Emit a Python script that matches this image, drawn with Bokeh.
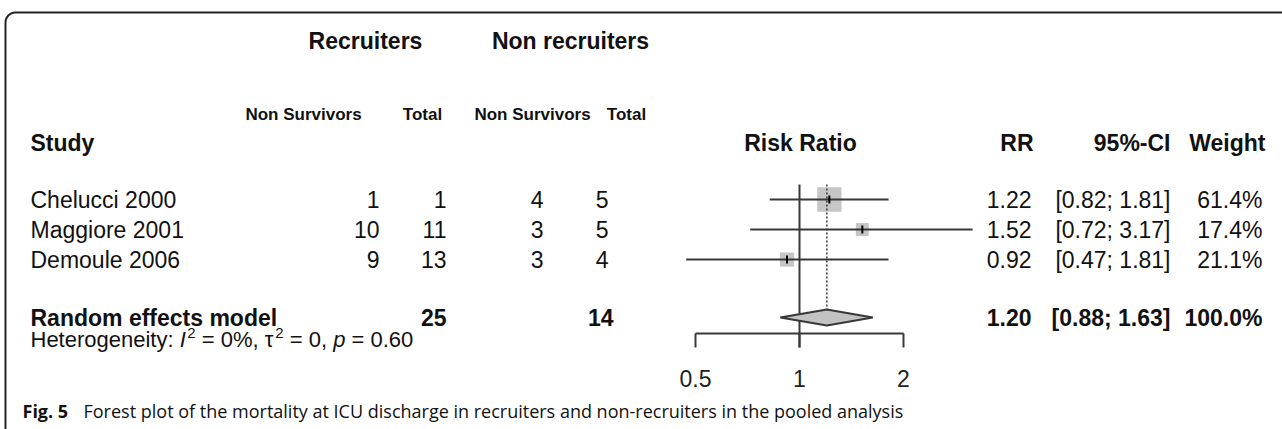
import numpy as np
from bokeh.plotting import figure
from bokeh.models import Range1d, LogScale
from bokeh.core.properties import value
from bokeh.embed import file_html
from bokeh.resources import INLINE

# ---- data -------------------------------------------------------------
studies = ["Chelucci 2000", "Maggiore 2001", "Demoule 2006"]
rec_events = [1, 10, 9]
rec_total = [1, 11, 13]
non_events = [4, 3, 3]
non_total = [5, 5, 4]
rr = [1.22, 1.52, 0.92]
ci_low = [0.82, 0.72, 0.47]
ci_high = [1.81, 3.17, 1.81]
weight = [61.4, 17.4, 21.1]

pooled_label = "Random effects model"
pooled_rec_total = 25
pooled_non_total = 14
pooled_rr = 1.20
pooled_low = 0.88
pooled_high = 1.63
pooled_weight = 100.0
het_i2 = "0%"
het_tau2 = "0"
het_p = "0.60"

null_value = 1.0
axis_ticks = [0.5, 1, 2]

caption_bold = "Fig. 5"
caption_text = ("Forest plot of the mortality at ICU discharge in recruiters "
                "and non-recruiters in the pooled analysis")

# ---- layout -----------------------------------------------------------
W, H = 1282, 429
NULL_PX = 799.0          # horizontal position of RR = 1
PX_PER_DOUBLING = 104.0  # log scale: pixels per factor of 2

Y_GROUP = 40
Y_SUB = 114
Y_HEAD = 142
ROW_Y0, ROW_STEP = 199, 30
Y_POOLED = 317
Y_HET = 339
Y_AXIS = 333
TICK_LEN = 14
Y_TICKLAB = 378
Y_CAPTION = 410
Y_FOREST_TOP = 184

row_y = [ROW_Y0 + i * ROW_STEP for i in range(len(studies))]

FONT = "Liberation Sans"
CAPFONT = "Open Sans"
FS = "23px"
INK = "#111111"
LINE = "#383838"
BOX = "#c6c6c6"

p = figure(width=W, height=H, x_range=Range1d(0, W), y_range=Range1d(H, 0),
           output_backend="svg", toolbar_location=None, min_border=0,
           x_axis_location=None, y_axis_location=None)
p.grid.visible = False
p.outline_line_color = None
p.background_fill_color = "white"

p.extra_x_ranges = {"rr": Range1d(2 ** (-NULL_PX / PX_PER_DOUBLING),
                                  2 ** ((W - NULL_PX) / PX_PER_DOUBLING))}
p.extra_x_scales = {"rr": LogScale()}


def txt(x, y, s, align="left", bold=False, italic=False, size=FS, font=FONT,
        color=INK, x_range_name="default"):
    style = "bold" if bold else ("italic" if italic else "normal")
    if not isinstance(x, list):
        x, y, s = [x], [y], [s]
    p.text(x=x, y=y, text=s, text_align=align, text_baseline="middle",
           text_font=value(font), text_font_size=size, text_font_style=style,
           text_color=color, x_range_name=x_range_name)


# ---- frame border (top + left with rounded corner) ---------------------
r = 10
theta = np.linspace(np.pi, 1.5 * np.pi, 16)
bx = [5] + list(5 + r + r * np.cos(theta)) + [W]
by = [H] + list(12 + r + r * np.sin(theta)) + [12]
p.line(bx, by, line_color="#222222", line_width=2)

# ---- column headers ----------------------------------------------------
SUB = "17px"
txt(365, Y_GROUP, "Recruiters", align="center", bold=True)
txt(570, Y_GROUP, "Non recruiters", align="center", bold=True)
txt(303, Y_SUB, "Non Survivors", align="center", bold=True, size=SUB)
txt(422, Y_SUB, "Total", align="center", bold=True, size=SUB)
txt(532, Y_SUB, "Non Survivors", align="center", bold=True, size=SUB)
txt(626, Y_SUB, "Total", align="center", bold=True, size=SUB)
txt(30, Y_HEAD, "Study", bold=True)
txt(800, Y_HEAD, "Risk Ratio", align="center", bold=True)
txt(1033, Y_HEAD, "RR", align="right", bold=True)
txt(1170, Y_HEAD, "95%-CI", align="right", bold=True)
txt(1265, Y_HEAD, "Weight", align="right", bold=True)

# ---- study rows --------------------------------------------------------
n = len(studies)
txt([30] * n, row_y, studies)
txt([379] * n, row_y, [str(v) for v in rec_events], align="right")
txt([446] * n, row_y, [str(v) for v in rec_total], align="right")
txt([543] * n, row_y, [str(v) for v in non_events], align="right")
txt([608] * n, row_y, [str(v) for v in non_total], align="right")
txt([1031] * n, row_y, [f"{v:.2f}" for v in rr], align="right")
txt([1170] * n, row_y, [f"[{a:.2f}; {b:.2f}]" for a, b in zip(ci_low, ci_high)], align="right")
txt([1262] * n, row_y, [f"{w:.1f}%" for w in weight], align="right")

# ---- pooled row --------------------------------------------------------
txt(30, Y_POOLED, pooled_label, bold=True)
txt(446, Y_POOLED, str(pooled_rec_total), align="right", bold=True)
txt(613, Y_POOLED, str(pooled_non_total), align="right", bold=True)
txt(1031, Y_POOLED, f"{pooled_rr:.2f}", align="right", bold=True)
txt(1170, Y_POOLED, f"[{pooled_low:.2f}; {pooled_high:.2f}]", align="right", bold=True)
txt(1262, Y_POOLED, f"{pooled_weight:.1f}%", align="right", bold=True)

# heterogeneity line, assembled from pieces (Arial-compatible advance widths);
# spaces are handled as explicit gaps because SVG trims leading/trailing blanks
ADV = {" ": 278, ":": 278, ",": 278, ".": 278, "=": 584, "%": 889, "2": 556,
       "0": 556, "6": 556, "H": 722, "e": 556, "t": 278, "r": 333, "o": 556,
       "g": 556, "n": 556, "i": 222, "y": 500, "I": 278, "p": 556, "τ": 410}


def adv(s, px):
    return sum(ADV.get(c, 556) for c in s) * px / 1000.0


het_px = 22
sup_px = 15
pieces = [("Heterogeneity:", "n"), (" ", "gap"), ("I", "i"), ("2", "sup"),
          (" ", "gap"), (f"= {het_i2}, τ", "n"), ("2", "sup"), (" ", "gap"),
          (f"= {het_tau2},", "n"), (" ", "gap"), ("p", "i"), (" ", "gap"),
          (f"= {het_p}", "n")]
hx = 30.0
for s, kind in pieces:
    if kind == "gap":
        hx += adv(s, het_px)
    elif kind == "sup":
        txt(hx + 1.5, Y_HET - 7, s, size=f"{sup_px}px")
        hx += adv(s, sup_px) + 1.5
    else:
        txt(hx, Y_HET, s, italic=(kind == "i"), size=f"{het_px}px")
        hx += adv(s, het_px)

# ---- forest plot -------------------------------------------------------
box_size = [3.1 * np.sqrt(w) for w in weight]
p.scatter(x=rr, y=row_y, size=box_size, marker="square", fill_color=BOX,
          line_color=None, x_range_name="rr")
p.segment(x0=[null_value], x1=[null_value], y0=[Y_FOREST_TOP], y1=[Y_AXIS + TICK_LEN],
          line_color=LINE, line_width=2, x_range_name="rr")
p.segment(x0=[pooled_rr], x1=[pooled_rr], y0=[Y_FOREST_TOP], y1=[Y_POOLED - 8],
          line_color=LINE, line_width=1.5, line_dash="2 2", x_range_name="rr")
p.segment(x0=ci_low, x1=ci_high, y0=row_y, y1=row_y, line_color=LINE,
          line_width=2, x_range_name="rr")
p.scatter(x=rr, y=row_y, size=8, marker="dash", angle=np.pi / 2,
          line_color="black", line_width=2, x_range_name="rr")

p.patch(x=[pooled_low, pooled_rr, pooled_high, pooled_rr],
        y=[Y_POOLED, Y_POOLED - 8, Y_POOLED, Y_POOLED + 8],
        fill_color="#c2c2c2", line_color=LINE, line_width=2, x_range_name="rr")

# axis bracket with ticks
p.segment(x0=[min(axis_ticks)], x1=[max(axis_ticks)], y0=[Y_AXIS], y1=[Y_AXIS],
          line_color=LINE, line_width=2, x_range_name="rr")
p.segment(x0=axis_ticks, x1=axis_ticks, y0=[Y_AXIS] * len(axis_ticks),
          y1=[Y_AXIS + TICK_LEN] * len(axis_ticks), line_color=LINE, line_width=2,
          x_range_name="rr")
txt(list(axis_ticks), [Y_TICKLAB] * len(axis_ticks), [f"{t:g}" for t in axis_ticks],
    align="center", x_range_name="rr", color="#222222")

# ---- caption -----------------------------------------------------------
txt(22, Y_CAPTION, caption_bold, bold=True, size="18px", font=CAPFONT)
txt(83, Y_CAPTION, caption_text, size="18px", font=CAPFONT)

open("out.html", "w").write(file_html(p, INLINE))
